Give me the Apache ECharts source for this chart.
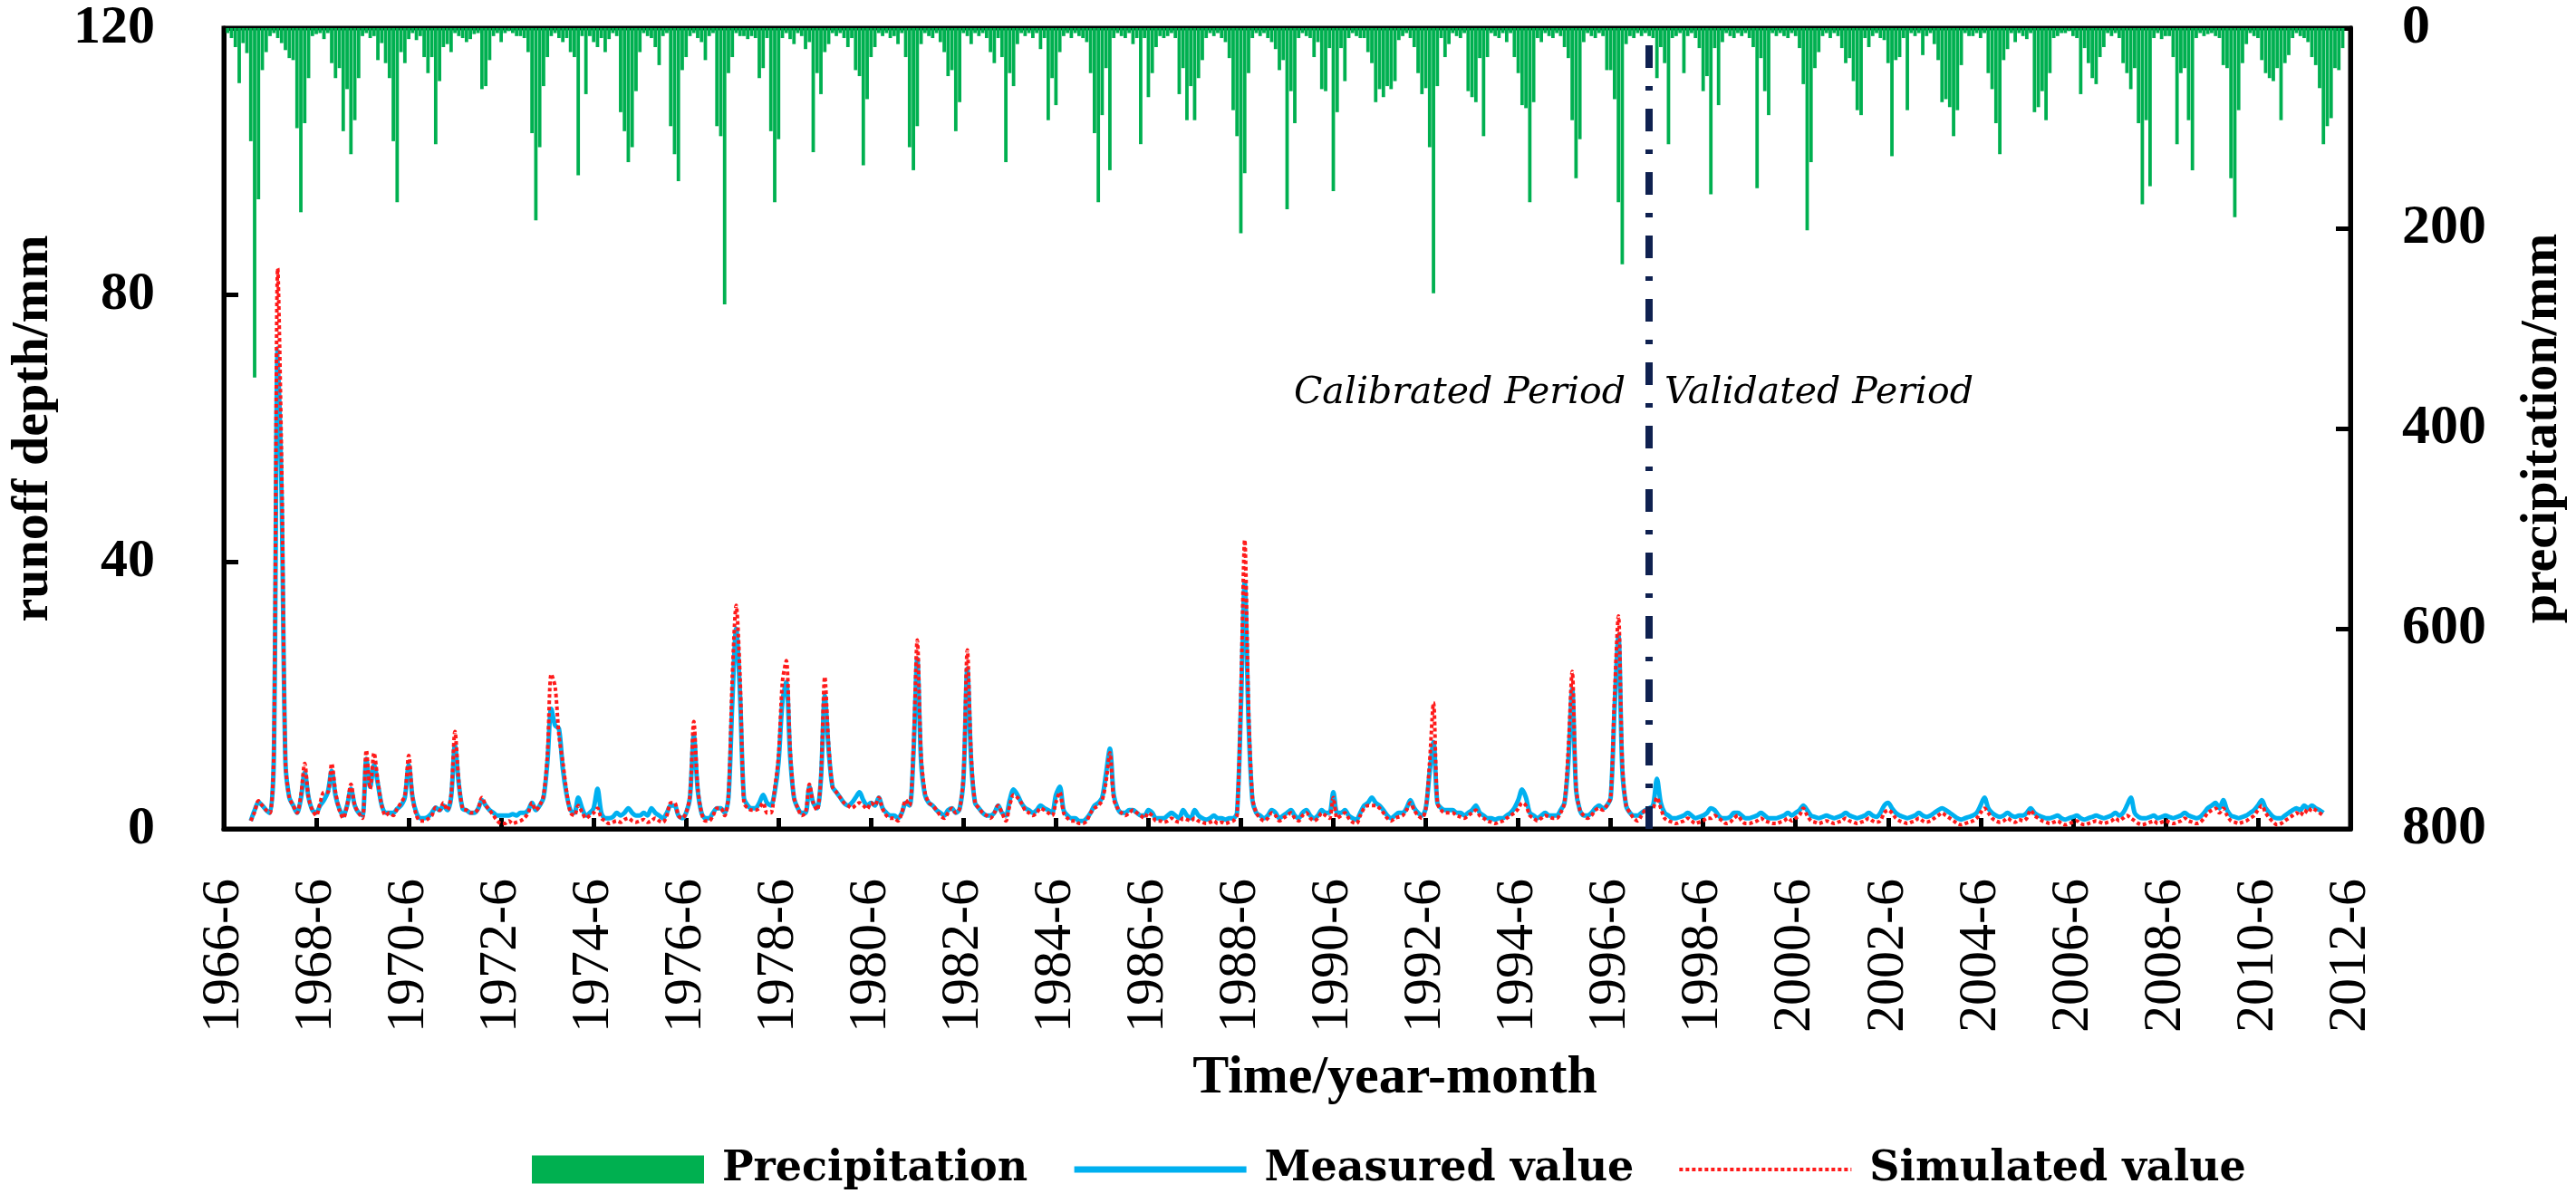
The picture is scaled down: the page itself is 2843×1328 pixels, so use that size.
<!DOCTYPE html>
<html>
<head>
<meta charset="utf-8">
<title>Runoff depth and precipitation</title>
<script src="https://cdn.jsdelivr.net/npm/echarts@6/dist/echarts.min.js"></script>
<style>
  html, body { margin: 0; padding: 0; background: #fff; }
  #main { width: 2843px; height: 1328px; }
</style>
</head>
<body>
<div id="main"></div>
<script>
// months on the x axis: 1966-6 ... 2012-6
var startYear = 1966, startMonth = 6, monthCount = 553;
var months = [];
for (var i = 0; i < monthCount; i++) {
  var k = startMonth - 1 + i;
  months.push((startYear + Math.floor(k / 12)) + '-' + (k % 12 + 1));
}
var splitMonth = '1997-4';
var legendNames = ['Precipitation', 'Measured value', 'Simulated value'];
var periodLabels = ['Calibrated Period', 'Validated Period'];

// monthly precipitation (mm), one row per year starting in June
var precipRows = [
  [0, 5, 10, 19, 55, 15, 25, 113, 349, 171, 42, 24],
  [8, 5, 10, 15, 22, 30, 32, 100, 184, 95, 50, 8],
  [6, 5, 11, 5, 35, 50, 40, 103, 61, 126, 92, 50],
  [8, 5, 10, 8, 32, 15, 35, 50, 113, 174, 24, 35],
  [11, 5, 12, 8, 29, 45, 29, 116, 53, 19, 16, 24],
  [5, 8, 10, 14, 11, 6, 5, 61, 58, 32, 8, 5],
  [14, 5, 3, 5, 8, 8, 10, 24, 105, 192, 119, 58],
  [29, 8, 5, 10, 14, 10, 24, 29, 147, 8, 66, 8],
  [14, 19, 10, 24, 11, 5, 8, 84, 103, 134, 119, 63],
  [24, 5, 8, 10, 19, 37, 8, 5, 98, 126, 153, 42],
  [29, 8, 5, 10, 14, 32, 8, 5, 98, 108, 276, 45],
  [29, 5, 8, 8, 11, 8, 10, 50, 40, 10, 103, 174],
  [111, 10, 5, 11, 16, 5, 8, 21, 14, 124, 45, 66],
  [24, 16, 5, 8, 5, 10, 19, 10, 42, 48, 137, 71],
  [29, 19, 5, 8, 5, 10, 8, 16, 5, 29, 119, 142],
  [98, 16, 5, 8, 10, 5, 14, 24, 48, 42, 103, 74],
  [5, 8, 16, 5, 8, 5, 10, 24, 35, 10, 29, 134],
  [45, 58, 16, 5, 8, 5, 10, 5, 21, 10, 92, 50],
  [77, 24, 8, 5, 10, 5, 8, 10, 14, 45, 105, 174],
  [87, 40, 142, 10, 5, 8, 10, 5, 16, 10, 116, 10],
  [69, 45, 19, 8, 10, 8, 5, 10, 66, 40, 92, 58],
  [92, 50, 32, 10, 5, 8, 5, 10, 14, 30, 82, 108],
  [205, 145, 45, 10, 5, 8, 5, 10, 14, 21, 42, 32],
  [181, 63, 95, 10, 5, 8, 10, 29, 14, 61, 63, 20],
  [163, 84, 20, 53, 10, 5, 8, 10, 10, 24, 35, 74],
  [61, 69, 58, 61, 53, 12, 8, 5, 10, 19, 45, 66],
  [60, 119, 265, 58, 10, 29, 16, 5, 8, 10, 5, 63],
  [69, 74, 30, 108, 29, 5, 8, 10, 5, 14, 5, 29],
  [45, 77, 80, 174, 74, 10, 14, 5, 8, 10, 5, 8],
  [19, 30, 92, 150, 111, 14, 5, 8, 10, 5, 8, 42],
  [42, 71, 174, 236, 16, 8, 10, 5, 8, 5, 8, 10],
  [50, 19, 35, 116, 10, 8, 5, 45, 8, 5, 10, 20],
  [63, 48, 166, 20, 77, 14, 5, 8, 10, 5, 8, 5],
  [10, 19, 160, 30, 63, 87, 5, 8, 5, 8, 10, 5],
  [8, 20, 56, 202, 134, 40, 24, 8, 5, 10, 5, 8],
  [20, 35, 30, 53, 82, 87, 10, 19, 8, 5, 10, 12],
  [35, 128, 32, 29, 10, 82, 5, 8, 5, 27, 8, 5],
  [16, 32, 74, 71, 79, 108, 82, 37, 5, 8, 8, 5],
  [10, 5, 45, 61, 95, 126, 32, 21, 5, 14, 5, 8],
  [11, 5, 84, 79, 63, 92, 45, 10, 8, 5, 5, 3],
  [8, 10, 66, 20, 35, 50, 56, 29, 19, 5, 8, 5],
  [10, 35, 45, 61, 40, 95, 176, 92, 158, 10, 5, 11],
  [8, 8, 29, 116, 45, 40, 92, 142, 10, 5, 8, 6],
  [5, 8, 10, 37, 40, 150, 189, 82, 35, 16, 5, 8],
  [10, 32, 45, 50, 53, 40, 92, 35, 27, 10, 5, 8],
  [10, 14, 29, 37, 60, 116, 98, 90, 40, 42, 20, 0],
  [0]
];

// measured runoff depth (mm)
var measuredRows = [
  [null, null, null, null, null, null, null, 1.2, 2.8, 4.0, 3.5, 2.8],
  [2.4, 11, 72, 50, 10, 4.7, 3.5, 2.4, 4.5, 8.5, 4.7, 2.8],
  [2.4, 3.5, 4.3, 5.5, 8.7, 5.0, 3.0, 2.0, 3.5, 6.0, 3.5, 2.4],
  [2.0, 10.5, 6.3, 9.6, 6.7, 3.5, 2.4, 2.4, 2.4, 3.0, 3.5, 4.7],
  [9.6, 4.7, 2.4, 1.6, 1.6, 1.8, 2.4, 3.2, 2.8, 3.5, 2.8, 4.7],
  [12.5, 6.7, 3.0, 2.8, 2.4, 2.4, 3.0, 4.3, 3.5, 2.8, 2.4, 2.0],
  [2.0, 2.0, 2.0, 2.2, 2.0, 2.4, 2.4, 2.8, 3.9, 2.8, 3.5, 4.7],
  [10, 18, 15.5, 15, 9, 5.1, 2.8, 2.4, 4.7, 3.1, 2.0, 2.4],
  [3.1, 6.0, 2.4, 1.6, 1.6, 1.8, 2.4, 2.0, 2.4, 3.1, 2.4, 2.0],
  [2.0, 2.4, 2.0, 3.1, 2.4, 2.0, 1.6, 2.4, 3.5, 3.5, 2.0, 1.6],
  [2.4, 4.7, 14, 5.9, 2.4, 1.6, 1.6, 2.4, 3.1, 3.1, 2.4, 4.7],
  [19, 30, 20, 4.7, 3.5, 3.1, 3.1, 3.9, 5.1, 3.9, 3.5, 5.5],
  [10, 19, 22, 11, 4.7, 3.1, 2.4, 2.4, 6.3, 3.9, 3.1, 7.5],
  [20, 11.8, 6.3, 5.5, 4.7, 3.9, 3.5, 3.9, 4.7, 5.5, 4.3, 3.5],
  [3.9, 3.5, 4.7, 3.1, 2.4, 2.0, 2.0, 1.6, 2.4, 3.9, 3.5, 11],
  [25.5, 10, 5.1, 3.9, 3.5, 2.8, 2.4, 2.0, 2.8, 3.1, 2.4, 3.0],
  [7.5, 24, 10, 3.9, 3.1, 2.4, 2.0, 2.0, 2.4, 3.5, 2.4, 2.0],
  [4.3, 5.9, 5.1, 3.9, 3.1, 2.8, 2.4, 2.8, 3.5, 3.1, 2.8, 2.4],
  [5.1, 6.3, 2.8, 2.0, 1.6, 1.6, 1.2, 1.2, 1.6, 2.4, 3.5, 3.9],
  [4.7, 8.3, 12, 5.1, 3.1, 2.4, 2.4, 2.8, 2.8, 2.4, 2.0, 2.0],
  [2.8, 2.4, 1.6, 1.6, 1.6, 2.0, 2.4, 2.0, 1.6, 2.8, 2.0, 1.6],
  [2.8, 2.0, 1.6, 1.4, 1.6, 2.0, 1.6, 1.6, 1.4, 1.6, 1.6, 2.4],
  [18, 37, 16, 4.3, 2.4, 2.0, 1.6, 2.0, 2.8, 2.4, 1.6, 2.0],
  [2.4, 2.8, 2.0, 1.6, 2.4, 2.8, 2.0, 1.6, 2.0, 2.8, 2.4, 2.4],
  [5.5, 2.4, 2.4, 2.8, 2.0, 1.6, 1.4, 2.4, 3.5, 3.9, 4.7, 3.9],
  [3.5, 2.8, 2.0, 1.6, 2.0, 2.4, 2.4, 3.1, 4.3, 3.1, 2.4, 2.0],
  [3.1, 8.5, 13, 3.9, 3.1, 2.8, 2.8, 2.8, 2.4, 2.4, 2.0, 2.4],
  [2.8, 3.5, 2.4, 2.0, 1.6, 1.6, 1.4, 1.6, 1.6, 2.0, 2.4, 3.1],
  [4.3, 5.9, 4.7, 2.4, 2.0, 1.6, 2.0, 2.4, 2.0, 2.0, 2.0, 2.8],
  [3.9, 10, 21, 5.9, 2.8, 2.0, 2.0, 2.4, 3.1, 3.5, 3.1, 3.5],
  [4.7, 18, 29, 9, 3.5, 2.4, 2.0, 2.0, 2.4, 2.8, 3.1, 3.5],
  [7.5, 3.9, 2.4, 2.0, 1.6, 1.6, 1.8, 2.0, 2.4, 2.0, 1.6, 1.8],
  [2.0, 2.4, 3.1, 2.8, 2.0, 1.6, 1.6, 1.8, 2.4, 2.4, 2.0, 1.6],
  [1.6, 1.8, 2.0, 2.4, 2.0, 1.6, 1.6, 1.6, 1.8, 2.0, 2.4, 2.0],
  [2.4, 2.8, 3.5, 2.8, 2.0, 1.8, 1.6, 1.8, 2.0, 1.8, 1.6, 1.8],
  [2.0, 2.4, 2.0, 1.8, 1.6, 1.8, 2.0, 2.4, 2.0, 1.8, 2.4, 3.5],
  [3.9, 3.1, 2.4, 2.0, 1.8, 1.6, 1.8, 2.0, 2.4, 2.0, 1.8, 2.0],
  [2.4, 2.8, 3.1, 2.8, 2.4, 2.0, 1.6, 1.4, 1.6, 1.8, 2.0, 2.4],
  [3.5, 4.7, 3.1, 2.4, 2.0, 1.8, 2.0, 2.4, 2.0, 1.8, 2.0, 2.0],
  [2.4, 3.1, 2.4, 2.0, 1.8, 1.6, 1.6, 1.8, 2.0, 1.6, 1.4, 1.6],
  [1.8, 2.0, 1.6, 1.4, 1.6, 1.8, 2.0, 1.8, 1.6, 1.8, 2.0, 2.4],
  [2.0, 2.4, 3.5, 4.7, 2.4, 1.8, 1.6, 1.6, 1.8, 2.0, 1.6, 1.8],
  [2.0, 1.8, 1.6, 1.8, 2.0, 2.4, 2.0, 1.8, 1.6, 1.8, 2.4, 3.1],
  [3.5, 3.9, 3.1, 4.3, 2.8, 2.0, 1.8, 1.6, 1.8, 2.0, 2.4, 2.8],
  [3.5, 4.3, 3.1, 2.4, 1.8, 1.6, 1.6, 2.0, 2.4, 2.8, 3.1, 2.8],
  [3.5, 3.1, 3.5, 3.1, 2.8, 2.4, null, null, null, null, null, null],
  [null]
];

// simulated runoff depth (mm)
var simulatedRows = [
  [null, null, null, null, null, null, null, 1.2, 2.5, 4.2, 3.5, 2.8],
  [2.4, 12, 84, 55, 10, 4.7, 3.5, 2.4, 5.0, 9.8, 4.7, 2.8],
  [2.0, 3.9, 5.5, 5.5, 9.8, 5.5, 2.8, 1.6, 3.5, 6.7, 3.5, 2.4],
  [1.6, 11.8, 6.0, 11.4, 7.1, 3.5, 2.0, 2.4, 2.0, 3.0, 3.9, 5.0],
  [11, 4.7, 2.0, 1.2, 1.2, 1.5, 2.0, 3.2, 2.8, 3.9, 2.8, 5.0],
  [14.6, 7.1, 3.0, 2.8, 2.4, 2.4, 3.0, 4.7, 3.5, 2.8, 2.0, 1.2],
  [0.8, 0.8, 1.2, 0.8, 1.0, 1.2, 1.6, 2.4, 3.9, 2.8, 3.5, 5.0],
  [11, 23.2, 21.3, 14, 10, 5.5, 2.4, 2.0, 3.5, 2.5, 1.6, 2.0],
  [2.4, 3.1, 1.6, 1.2, 0.8, 1.0, 1.2, 1.0, 1.4, 1.6, 1.2, 1.0],
  [1.2, 1.4, 1.0, 1.2, 1.6, 1.2, 1.0, 2.0, 3.9, 3.9, 2.0, 1.6],
  [2.4, 5.0, 16.1, 6.3, 2.4, 1.2, 1.2, 2.0, 3.1, 3.1, 2.0, 5.0],
  [22.8, 33.5, 22.8, 3.9, 3.1, 2.8, 2.8, 3.1, 3.9, 2.4, 2.4, 6.0],
  [11, 22, 25.2, 12, 4.7, 3.1, 2.0, 2.4, 6.7, 3.9, 2.8, 8.0],
  [22.8, 12.6, 6.3, 5.5, 4.7, 3.9, 3.5, 3.1, 3.5, 3.9, 3.5, 3.0],
  [3.9, 3.5, 4.7, 3.0, 2.0, 1.6, 1.6, 1.2, 2.4, 4.3, 3.5, 12],
  [28.3, 11, 5.5, 3.9, 3.5, 2.8, 2.0, 1.6, 2.4, 3.1, 2.4, 3.0],
  [8.0, 26.8, 11, 3.9, 3.1, 2.4, 2.0, 1.6, 2.4, 3.5, 2.4, 1.2],
  [3.5, 5.1, 4.7, 3.9, 2.8, 2.4, 2.0, 2.4, 3.1, 2.8, 2.4, 2.0],
  [4.0, 5.5, 2.4, 1.6, 1.2, 1.2, 0.8, 0.8, 1.2, 2.4, 3.1, 3.5],
  [4.3, 7.1, 11.4, 4.5, 3.1, 2.4, 2.0, 2.4, 2.8, 2.4, 2.0, 1.6],
  [2.4, 2.0, 1.2, 1.2, 1.0, 1.2, 1.6, 1.2, 1.0, 1.6, 1.4, 1.2],
  [1.6, 1.2, 1.0, 0.8, 1.0, 1.2, 0.8, 1.0, 0.8, 1.0, 1.2, 2.0],
  [20, 43.3, 18, 4.7, 2.4, 1.6, 1.2, 1.6, 2.4, 2.0, 1.2, 1.6],
  [2.0, 2.4, 1.6, 1.2, 2.0, 2.4, 1.6, 1.2, 1.6, 2.4, 2.0, 1.6],
  [4.7, 1.6, 2.0, 2.4, 1.6, 1.0, 0.8, 2.0, 3.1, 3.5, 3.5, 3.5],
  [3.1, 2.4, 1.6, 1.2, 1.6, 1.8, 2.0, 2.8, 3.9, 2.8, 2.0, 1.6],
  [3.0, 10, 18.9, 3.9, 2.8, 2.4, 2.4, 2.4, 2.0, 1.8, 1.6, 2.0],
  [2.4, 2.8, 2.0, 1.6, 1.2, 1.0, 0.8, 1.0, 1.2, 1.6, 2.0, 2.4],
  [3.0, 3.9, 3.5, 2.0, 1.6, 1.2, 1.6, 2.0, 1.8, 1.6, 1.6, 2.4],
  [3.9, 12, 23.6, 6.3, 2.8, 2.0, 1.6, 2.0, 2.8, 3.1, 2.8, 3.5],
  [4.7, 20, 31.9, 10, 3.5, 2.4, 1.6, 1.2, 2.0, 2.8, 2.8, 3.1],
  [4.7, 3.1, 1.6, 1.2, 1.0, 0.8, 1.0, 1.2, 1.6, 1.2, 0.8, 1.0],
  [1.2, 1.6, 1.6, 2.0, 1.6, 1.2, 0.8, 1.0, 1.6, 2.0, 1.2, 0.8],
  [0.8, 1.0, 1.2, 1.6, 1.2, 1.0, 0.8, 0.8, 1.0, 1.2, 1.6, 1.2],
  [1.6, 2.0, 3.1, 2.0, 1.2, 1.0, 0.8, 1.0, 1.2, 1.0, 0.8, 1.0],
  [1.2, 1.6, 1.2, 1.0, 0.8, 1.0, 1.2, 1.6, 1.2, 1.0, 1.2, 2.4],
  [2.8, 2.4, 1.6, 1.2, 1.0, 0.8, 1.0, 1.2, 1.6, 1.2, 1.0, 1.2],
  [1.6, 2.0, 2.4, 2.0, 1.6, 1.2, 0.8, 0.6, 0.8, 1.0, 1.2, 1.6],
  [2.4, 3.1, 2.4, 1.6, 1.2, 1.0, 1.2, 1.6, 1.2, 1.0, 1.4, 1.2],
  [1.6, 2.8, 2.0, 1.6, 1.2, 1.0, 0.8, 1.0, 1.2, 0.8, 0.6, 0.8],
  [1.0, 1.2, 0.8, 0.6, 0.8, 1.0, 1.2, 1.0, 0.8, 1.0, 1.2, 1.6],
  [1.2, 1.6, 2.0, 1.6, 1.2, 0.8, 0.6, 0.8, 1.0, 1.2, 0.8, 1.0],
  [1.2, 1.0, 0.8, 1.0, 1.2, 1.6, 1.2, 1.0, 0.8, 1.0, 1.6, 2.4],
  [2.8, 3.1, 2.4, 3.1, 2.0, 1.2, 1.0, 0.8, 1.0, 1.2, 1.6, 2.0],
  [2.8, 3.5, 2.4, 1.6, 1.0, 0.6, 0.8, 1.2, 1.6, 2.0, 2.4, 2.0],
  [2.8, 2.4, 3.1, 2.8, 2.4, 2.0, null, null, null, null, null, null],
  [null]
];

var precipitation = [].concat.apply([], precipRows);
var measured = [].concat.apply([], measuredRows);
var simulated = [].concat.apply([], simulatedRows);

var serif = 'Liberation Serif';

var myChart = echarts.init(document.getElementById('main'));
var option = {
  animation: false,
  backgroundColor: '#fff',
  grid: {
    left: 235, right: 236, top: 28, bottom: 413,
    show: true, borderColor: '#000', borderWidth: 5
  },
  legend: {
    left: 582, top: 1263,
    itemWidth: 190, itemHeight: 31, itemGap: 48,
    textStyle: {
      fontFamily: 'DejaVu Serif', fontWeight: 'bold', fontSize: 46, color: '#000',
      padding: [0, 0, 0, 15]
    },
    data: [
      { name: legendNames[0], icon: 'rect' },
      { name: legendNames[1], itemStyle: { opacity: 0 }, lineStyle: { width: 7 } },
      { name: legendNames[2], itemStyle: { opacity: 0 }, lineStyle: { width: 4 } }
    ]
  },
  xAxis: {
    type: 'category',
    data: months,
    boundaryGap: false,
    name: 'Time/year-month',
    nameLocation: 'middle',
    nameGap: 245,
    nameTextStyle: {
      fontFamily: serif, fontWeight: 'bold', fontSize: 60, color: '#000',
      padding: [0, 0, 0, 238]
    },
    axisLine: { lineStyle: { color: '#000', width: 5 } },
    axisTick: { inside: true, interval: 23, length: 12, lineStyle: { color: '#000', width: 5 } },
    axisLabel: {
      interval: 23, rotate: 90, margin: 55,
      fontFamily: serif, fontSize: 60, color: '#000'
    },
    splitLine: { show: false }
  },
  yAxis: [
    {
      type: 'value', position: 'left',
      min: 0, max: 120, interval: 40,
      name: 'runoff depth/mm',
      nameLocation: 'middle', nameRotate: 90, nameGap: 181,
      nameTextStyle: { fontFamily: serif, fontWeight: 'bold', fontSize: 58, color: '#000' },
      axisLine: { show: true, lineStyle: { color: '#000', width: 5 } },
      axisTick: { show: true, inside: true, length: 16, lineStyle: { color: '#000', width: 5 } },
      axisLabel: { margin: 76, fontFamily: serif, fontWeight: 'bold', fontSize: 60, color: '#000' },
      splitLine: { show: false }
    },
    {
      type: 'value', position: 'right', inverse: true,
      min: 0, max: 800, interval: 200,
      name: 'precipitation/mm',
      nameLocation: 'middle', nameRotate: 90, nameGap: 183,
      nameTextStyle: { fontFamily: serif, fontWeight: 'bold', fontSize: 58, color: '#000' },
      axisLine: { show: true, lineStyle: { color: '#000', width: 5 } },
      axisTick: { show: true, inside: true, length: 16, lineStyle: { color: '#000', width: 5 } },
      axisLabel: { margin: 57, fontFamily: serif, fontWeight: 'bold', fontSize: 62, color: '#000' },
      splitLine: { show: false }
    }
  ],
  series: [
    {
      name: legendNames[0],
      type: 'bar',
      yAxisIndex: 1,
      barWidth: 3.8,
      itemStyle: { color: '#00b050' },
      data: precipitation,
      z: 1
    },
    {
      name: legendNames[1],
      type: 'line',
      yAxisIndex: 0,
      symbol: 'none',
      smooth: 0.3,
      lineStyle: { color: '#00b0f0', width: 5 },
      itemStyle: { color: '#00b0f0' },
      data: measured,
      z: 3
    },
    {
      name: legendNames[2],
      type: 'line',
      yAxisIndex: 0,
      symbol: 'none',
      smooth: 0.3,
      lineStyle: { color: '#ff1a1a', width: 4, type: [4, 3] },
      itemStyle: { color: '#ff1a1a' },
      data: simulated,
      z: 4,
      markLine: {
        silent: true,
        symbol: ['none', 'none'],
        label: { show: false },
        lineStyle: { color: '#0f2150', width: 8, type: [25, 20, 5, 20] },
        data: [{ xAxis: splitMonth }]
      }
    }
  ],
  graphic: [
    {
      type: 'text', left: 1428, top: 414,
      style: { text: periodLabels[0], font: 'italic 41px "DejaVu Serif"', fill: '#000' }
    },
    {
      type: 'text', left: 1837, top: 414,
      style: { text: periodLabels[1], font: 'italic 41px "DejaVu Serif"', fill: '#000' }
    }
  ]
};
myChart.setOption(option);
</script>
</body>
</html>
